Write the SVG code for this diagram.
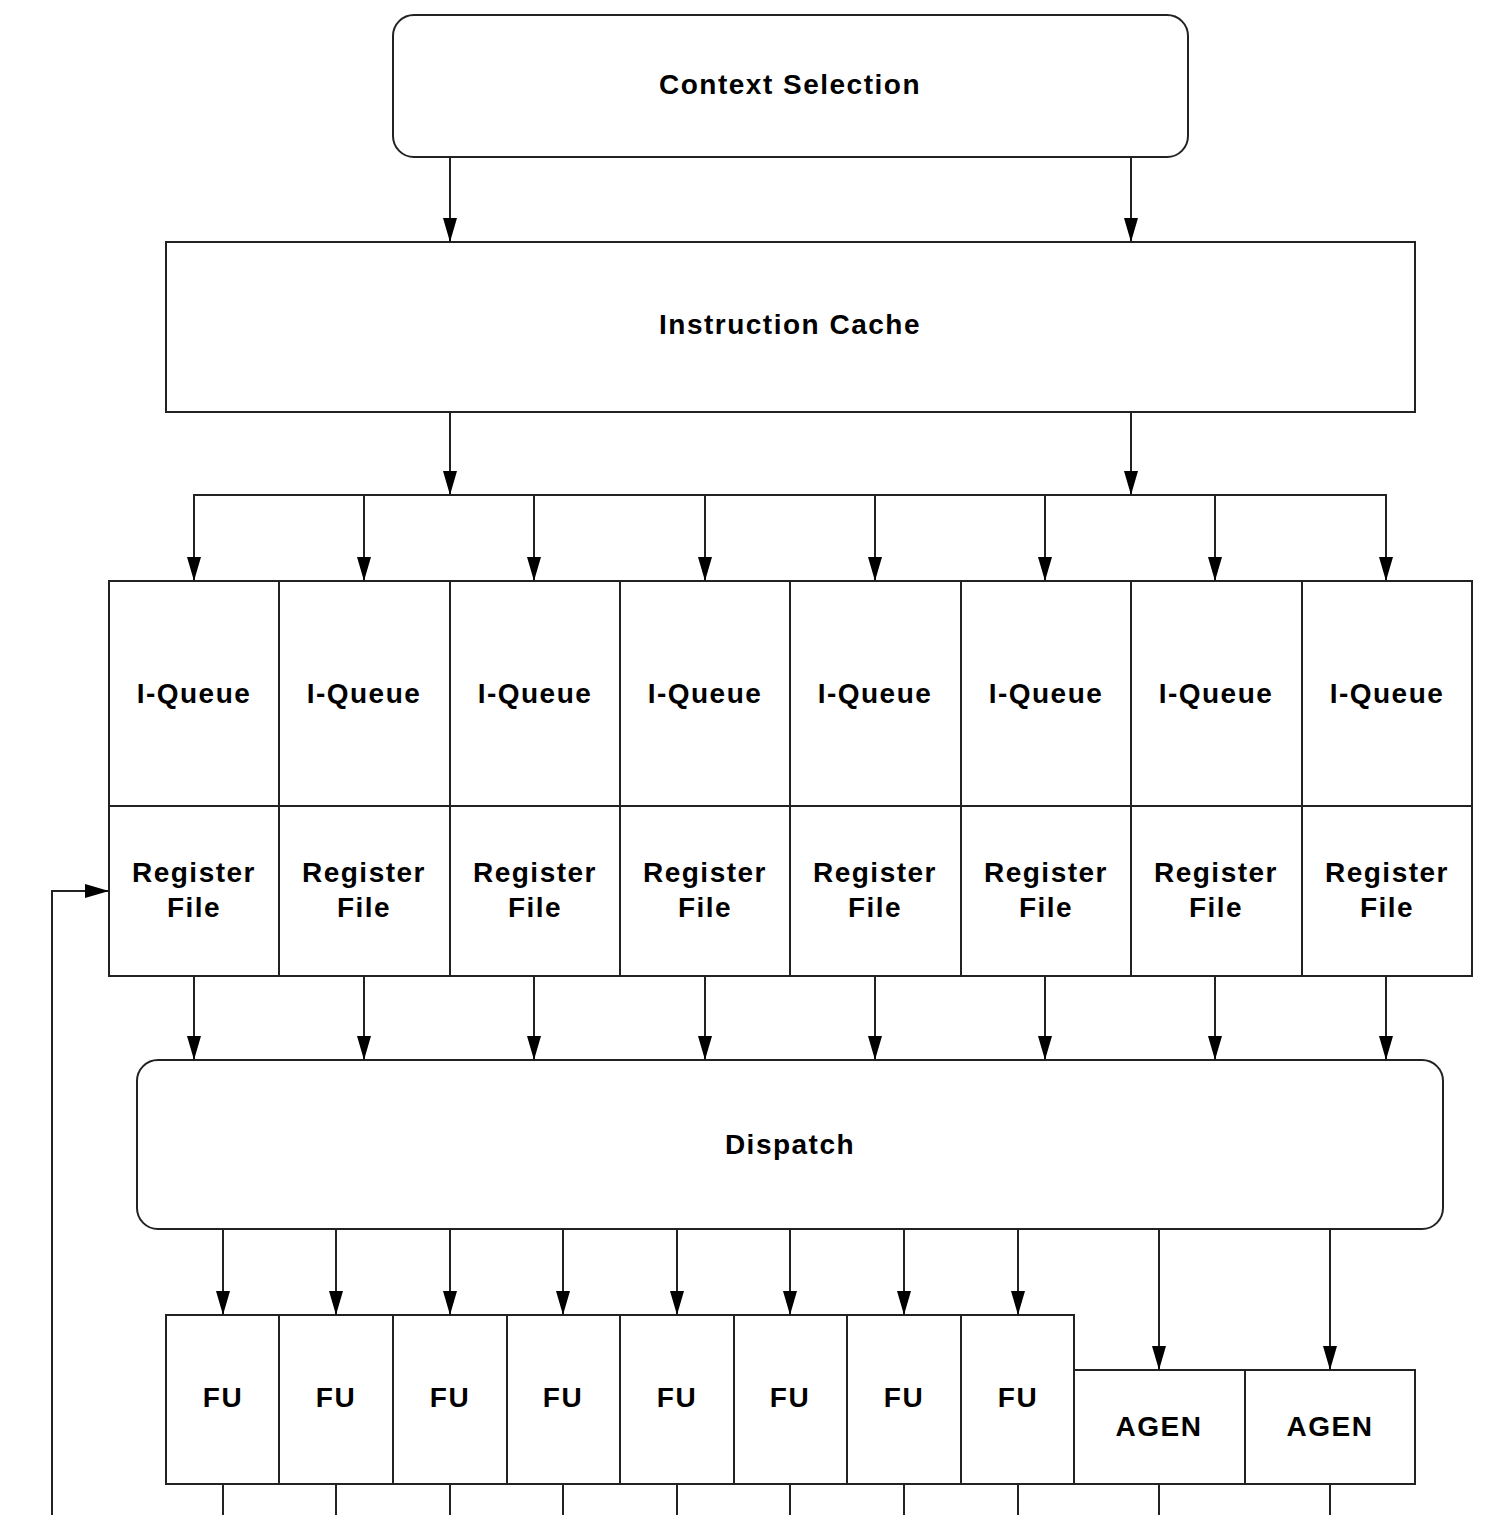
<svg xmlns="http://www.w3.org/2000/svg" width="1500" height="1539" viewBox="0 0 1500 1539">
<defs>
<style>
.box{fill:#fff;stroke:#222;stroke-width:2}
.ln{fill:none;stroke:#222;stroke-width:2}
.t{font-family:"Liberation Sans",Arial,sans-serif;font-weight:bold;font-size:28px;letter-spacing:1.5px;fill:#000;text-anchor:middle}
</style>
<marker id="ah" viewBox="0 0 24 16" refX="24" refY="8" markerWidth="24" markerHeight="16" markerUnits="userSpaceOnUse" orient="auto">
<path d="M0,1 L24,8 L0,15 Z" fill="#000"/>
</marker>
</defs>
<rect width="1500" height="1539" fill="#fff"/>
<g id="context-selection"><rect class="box" x="393" y="15" width="795" height="142" rx="21"/><text class="t" x="790" y="94">Context Selection</text></g>
<g id="instruction-cache"><rect class="box" x="166" y="242" width="1249" height="170"/><text class="t" x="790" y="334">Instruction Cache</text></g>
<g id="iqueue-1"><rect class="box" x="109" y="581" width="170" height="225"/><text class="t" x="194" y="703">I-Queue</text></g>
<g id="iqueue-2"><rect class="box" x="279" y="581" width="171" height="225"/><text class="t" x="364" y="703">I-Queue</text></g>
<g id="iqueue-3"><rect class="box" x="450" y="581" width="170" height="225"/><text class="t" x="535" y="703">I-Queue</text></g>
<g id="iqueue-4"><rect class="box" x="620" y="581" width="170" height="225"/><text class="t" x="705" y="703">I-Queue</text></g>
<g id="iqueue-5"><rect class="box" x="790" y="581" width="171" height="225"/><text class="t" x="875" y="703">I-Queue</text></g>
<g id="iqueue-6"><rect class="box" x="961" y="581" width="170" height="225"/><text class="t" x="1046" y="703">I-Queue</text></g>
<g id="iqueue-7"><rect class="box" x="1131" y="581" width="171" height="225"/><text class="t" x="1216" y="703">I-Queue</text></g>
<g id="iqueue-8"><rect class="box" x="1302" y="581" width="170" height="225"/><text class="t" x="1387" y="703">I-Queue</text></g>
<g id="regfile-1"><rect class="box" x="109" y="806" width="170" height="170"/><text class="t" x="194" y="882">Register</text><text class="t" x="194" y="917">File</text></g>
<g id="regfile-2"><rect class="box" x="279" y="806" width="171" height="170"/><text class="t" x="364" y="882">Register</text><text class="t" x="364" y="917">File</text></g>
<g id="regfile-3"><rect class="box" x="450" y="806" width="170" height="170"/><text class="t" x="535" y="882">Register</text><text class="t" x="535" y="917">File</text></g>
<g id="regfile-4"><rect class="box" x="620" y="806" width="170" height="170"/><text class="t" x="705" y="882">Register</text><text class="t" x="705" y="917">File</text></g>
<g id="regfile-5"><rect class="box" x="790" y="806" width="171" height="170"/><text class="t" x="875" y="882">Register</text><text class="t" x="875" y="917">File</text></g>
<g id="regfile-6"><rect class="box" x="961" y="806" width="170" height="170"/><text class="t" x="1046" y="882">Register</text><text class="t" x="1046" y="917">File</text></g>
<g id="regfile-7"><rect class="box" x="1131" y="806" width="171" height="170"/><text class="t" x="1216" y="882">Register</text><text class="t" x="1216" y="917">File</text></g>
<g id="regfile-8"><rect class="box" x="1302" y="806" width="170" height="170"/><text class="t" x="1387" y="882">Register</text><text class="t" x="1387" y="917">File</text></g>
<g id="dispatch"><rect class="box" x="137" y="1060" width="1306" height="169" rx="21"/><text class="t" x="790" y="1154">Dispatch</text></g>
<g id="fu-1"><rect class="box" x="166" y="1315" width="113" height="169"/><text class="t" x="223" y="1407">FU</text></g>
<g id="fu-2"><rect class="box" x="279" y="1315" width="114" height="169"/><text class="t" x="336" y="1407">FU</text></g>
<g id="fu-3"><rect class="box" x="393" y="1315" width="114" height="169"/><text class="t" x="450" y="1407">FU</text></g>
<g id="fu-4"><rect class="box" x="507" y="1315" width="113" height="169"/><text class="t" x="563" y="1407">FU</text></g>
<g id="fu-5"><rect class="box" x="620" y="1315" width="114" height="169"/><text class="t" x="677" y="1407">FU</text></g>
<g id="fu-6"><rect class="box" x="734" y="1315" width="113" height="169"/><text class="t" x="790" y="1407">FU</text></g>
<g id="fu-7"><rect class="box" x="847" y="1315" width="114" height="169"/><text class="t" x="904" y="1407">FU</text></g>
<g id="fu-8"><rect class="box" x="961" y="1315" width="113" height="169"/><text class="t" x="1018" y="1407">FU</text></g>
<g id="agen-1"><rect class="box" x="1074" y="1370" width="171" height="114"/><text class="t" x="1159" y="1436">AGEN</text></g>
<g id="agen-2"><rect class="box" x="1245" y="1370" width="170" height="114"/><text class="t" x="1330" y="1436">AGEN</text></g>
<g id="connectors">
<path class="ln" d="M450,157 V242" marker-end="url(#ah)"/>
<path class="ln" d="M1131,157 V242" marker-end="url(#ah)"/>
<path class="ln" d="M450,412 V495" marker-end="url(#ah)"/>
<path class="ln" d="M1131,412 V495" marker-end="url(#ah)"/>
<path class="ln" d="M194,581 V495 H1386 V581" marker-end="url(#ah)"/>
<path class="ln" d="M194,495 V581" marker-end="url(#ah)"/>
<path class="ln" d="M364,495 V581" marker-end="url(#ah)"/>
<path class="ln" d="M534,495 V581" marker-end="url(#ah)"/>
<path class="ln" d="M705,495 V581" marker-end="url(#ah)"/>
<path class="ln" d="M875,495 V581" marker-end="url(#ah)"/>
<path class="ln" d="M1045,495 V581" marker-end="url(#ah)"/>
<path class="ln" d="M1215,495 V581" marker-end="url(#ah)"/>
<path class="ln" d="M194,976 V1060" marker-end="url(#ah)"/>
<path class="ln" d="M364,976 V1060" marker-end="url(#ah)"/>
<path class="ln" d="M534,976 V1060" marker-end="url(#ah)"/>
<path class="ln" d="M705,976 V1060" marker-end="url(#ah)"/>
<path class="ln" d="M875,976 V1060" marker-end="url(#ah)"/>
<path class="ln" d="M1045,976 V1060" marker-end="url(#ah)"/>
<path class="ln" d="M1215,976 V1060" marker-end="url(#ah)"/>
<path class="ln" d="M1386,976 V1060" marker-end="url(#ah)"/>
<path class="ln" d="M223,1229 V1315" marker-end="url(#ah)"/>
<path class="ln" d="M336,1229 V1315" marker-end="url(#ah)"/>
<path class="ln" d="M450,1229 V1315" marker-end="url(#ah)"/>
<path class="ln" d="M563,1229 V1315" marker-end="url(#ah)"/>
<path class="ln" d="M677,1229 V1315" marker-end="url(#ah)"/>
<path class="ln" d="M790,1229 V1315" marker-end="url(#ah)"/>
<path class="ln" d="M904,1229 V1315" marker-end="url(#ah)"/>
<path class="ln" d="M1018,1229 V1315" marker-end="url(#ah)"/>
<path class="ln" d="M1159,1229 V1370" marker-end="url(#ah)"/>
<path class="ln" d="M1330,1229 V1370" marker-end="url(#ah)"/>
<path class="ln" d="M223,1484 V1515 M336,1484 V1515 M450,1484 V1515 M563,1484 V1515 M677,1484 V1515 M790,1484 V1515 M904,1484 V1515 M1018,1484 V1515 M1159,1484 V1515 M1330,1484 V1515"/>
<path class="ln" d="M52,1515 V891 H109" marker-end="url(#ah)"/>
</g>
</svg>
